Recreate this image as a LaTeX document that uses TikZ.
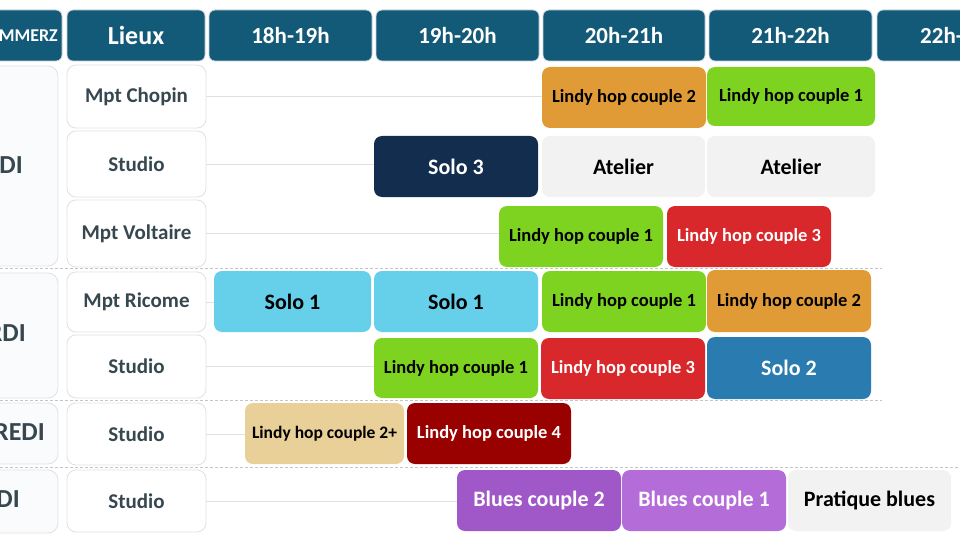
\documentclass[tikz,border=0pt]{standalone}
\usepackage{fontspec}
\setmainfont{Carlito}
\begin{document}
\begin{tikzpicture}[x=1pt,y=1pt,yscale=-1,
	hdr/.style={draw={rgb,255:red,200;green,214;blue,220},line width=0.8pt,fill={rgb,255:red,19;green,89;blue,120},rounded corners=6pt,minimum height=51pt,text=white,inner sep=0pt},
	day/.style={draw={rgb,255:red,222;green,226;blue,229},line width=0.8pt,fill={rgb,255:red,250;green,251;blue,252},rounded corners=10pt,minimum width=138pt},
	lieu/.style={draw={rgb,255:red,222;green,226;blue,229},line width=0.8pt,fill=white,rounded corners=9pt,minimum width=139pt,text={rgb,255:red,55;green,71;blue,79},font=\fontsize{21}{24}\bfseries,inner sep=0pt},
	ev/.style={rounded corners=8pt,minimum height=61pt,inner sep=0pt,font=\fontsize{22}{24}\bfseries},
	lindy/.style={ev,font=\fontsize{18.5}{20}\bfseries},
	rowline/.style={draw={rgb,255:red,222;green,224;blue,226},line width=0.8pt},
	sep/.style={draw={rgb,255:red,195;green,197;blue,200},line width=1pt,dash pattern={on 3pt off 2pt}}
	]
	\useasboundingbox (0,0) rectangle (960,540);
	\clip (0,0) rectangle (960,540);
	\fill[white] (0,0) rectangle (960,540);
	
	% Header row
	\node[hdr,minimum width=122pt] (h0) at (1,35.5) {};
	\node[anchor=east,text=white,font=\fontsize{18}{20}\bfseries,inner sep=0pt] (h0t) at (58,35.5) {MMERZ};
	\node[hdr,minimum width=138pt,font=\fontsize{26}{28}\bfseries] (h1) at (136,35.5) {Lieux};
	\node[hdr,minimum width=163pt,font=\fontsize{23}{25}\bfseries] (h2) at (290.5,35.5) {18h-19h};
	\node[hdr,minimum width=163pt,font=\fontsize{23}{25}\bfseries] (h3) at (457.5,35.5) {19h-20h};
	\node[hdr,minimum width=162pt,font=\fontsize{23}{25}\bfseries] (h4) at (624,35.5) {20h-21h};
	\node[hdr,minimum width=163pt,font=\fontsize{23}{25}\bfseries] (h5) at (790.5,35.5) {21h-22h};
	\node[hdr,minimum width=163pt] (h6) at (958.5,35.5) {};
	\node[anchor=west,text=white,font=\fontsize{23}{25}\bfseries,inner sep=0pt] (h6t) at (920,35.5) {22h-};
	
	% Day column
	\node[day,minimum height=200pt] (d1) at (-11,166) {};
	\node[anchor=east,text={rgb,255:red,55;green,71;blue,79},font=\fontsize{26}{28}\bfseries,inner sep=0pt] (d1t) at (23,165) {DI};
	\node[day,minimum height=125pt] (d2) at (-11,335.5) {};
	\node[anchor=east,text={rgb,255:red,55;green,71;blue,79},font=\fontsize{26}{28}\bfseries,inner sep=0pt] (d2t) at (26,333) {RDI};
	\node[day,minimum height=61pt] (d3) at (-11,433.5) {};
	\node[anchor=east,text={rgb,255:red,55;green,71;blue,79},font=\fontsize{26}{28}\bfseries,inner sep=0pt] (d3t) at (45,432) {REDI};
	\node[day,minimum height=63pt] (d4) at (-11,501.5) {};
	\node[anchor=east,text={rgb,255:red,55;green,71;blue,79},font=\fontsize{26}{28}\bfseries,inner sep=0pt] (d4t) at (20,499) {DI};
	
	% Separators
	\draw[sep] (0,268.5) -- (882,268.5);
	\draw[sep] (0,400.5) -- (882,400.5);
	\draw[sep] (0,467) -- (960,467);
	
	% Lieux
	\node[lieu,minimum height=63pt] (l1) at (136.5,96.5) {Mpt Chopin};
	\node[lieu,minimum height=66pt] (l2) at (136.5,164) {Studio};
	\node[lieu,minimum height=67pt] (l3) at (136.5,233.5) {Mpt Voltaire};
	\node[lieu,minimum height=60pt] (l4) at (136.5,302) {Mpt Ricome};
	\node[lieu,minimum height=63pt] (l5) at (136.5,366.5) {Studio};
	\node[lieu,minimum height=62pt] (l6) at (136.5,434) {Studio};
	\node[lieu,minimum height=62pt] (l7) at (136.5,501) {Studio};
	
	% Row 1
	\node[lindy,fill={rgb,255:red,224;green,155;blue,55},minimum width=164pt] (e11) at (624,97.5) {Lindy hop couple 2};
	\node[lindy,fill={rgb,255:red,126;green,211;blue,33},minimum width=168pt,minimum height=59pt] (e12) at (791,96.5) {Lindy hop couple 1};
	% Row 2
	\node[ev,fill={rgb,255:red,19;green,45;blue,78},text=white,minimum width=164pt] (e21) at (456,166.5) {Solo 3};
	\node[ev,fill={rgb,255:red,242;green,242;blue,243},minimum width=163pt] (e22) at (623.5,166.5) {Atelier};
	\node[ev,fill={rgb,255:red,242;green,242;blue,243},minimum width=168pt] (e23) at (791,166.5) {Atelier};
	% Row 3
	\node[lindy,fill={rgb,255:red,126;green,211;blue,33},minimum width=164pt] (e31) at (581,236.5) {Lindy hop couple 1};
	\node[lindy,fill={rgb,255:red,216;green,40;blue,43},text=white,minimum width=164pt] (e32) at (749,236.5) {Lindy hop couple 3};
	% Row 4
	\node[ev,fill={rgb,255:red,102;green,207;blue,234},minimum width=157pt] (e41) at (292.5,301.5) {Solo 1};
	\node[ev,fill={rgb,255:red,102;green,207;blue,234},minimum width=164pt] (e42) at (456,301.5) {Solo 1};
	\node[lindy,fill={rgb,255:red,126;green,211;blue,33},minimum width=164pt] (e43) at (624,301.5) {Lindy hop couple 1};
	\node[lindy,fill={rgb,255:red,224;green,155;blue,55},minimum width=164pt,minimum height=62pt] (e44) at (789,301) {Lindy hop couple 2};
	% Row 5
	\node[lindy,fill={rgb,255:red,126;green,211;blue,33},minimum width=164pt,minimum height=60pt] (e51) at (456,368) {Lindy hop couple 1};
	\node[lindy,fill={rgb,255:red,216;green,40;blue,43},text=white,minimum width=164pt] (e52) at (623,368.5) {Lindy hop couple 3};
	\node[ev,fill={rgb,255:red,42;green,123;blue,175},text=white,minimum width=164pt,minimum height=62pt] (e53) at (789,368) {Solo 2};
	% Row 6
	\node[lindy,fill={rgb,255:red,233;green,207;blue,152},minimum width=159pt,font=\fontsize{17.5}{20}\bfseries] (e61) at (324.5,433.5) {Lindy hop couple 2+};
	\node[lindy,fill={rgb,255:red,153;green,0;blue,0},text=white,minimum width=164pt] (e62) at (489,433.5) {Lindy hop couple 4};
	% Row 7
	\node[ev,fill={rgb,255:red,160;green,88;blue,200},text=white,minimum width=164pt] (e71) at (539,500.5) {Blues couple 2};
	\node[ev,fill={rgb,255:red,180;green,108;blue,216},text=white,minimum width=164pt] (e72) at (704,500.5) {Blues couple 1};
	\node[ev,fill={rgb,255:red,242;green,242;blue,243},minimum width=163pt] (e73) at (869.5,500.5) {Pratique blues};
	
	% Row lines
	\draw[rowline] (l1.east) -- (e11.west |- l1.east);
	\draw[rowline] (l2.east) -- (e21.west |- l2.east);
	\draw[rowline] (l3.east) -- (e31.west |- l3.east);
	\draw[rowline] (l4.east) -- (e41.west |- l4.east);
	\draw[rowline] (l5.east) -- (e51.west |- l5.east);
	\draw[rowline] (l6.east) -- (e61.west |- l6.east);
	\draw[rowline] (l7.east) -- (e71.west |- l7.east);
	
\end{tikzpicture}
\end{document}
